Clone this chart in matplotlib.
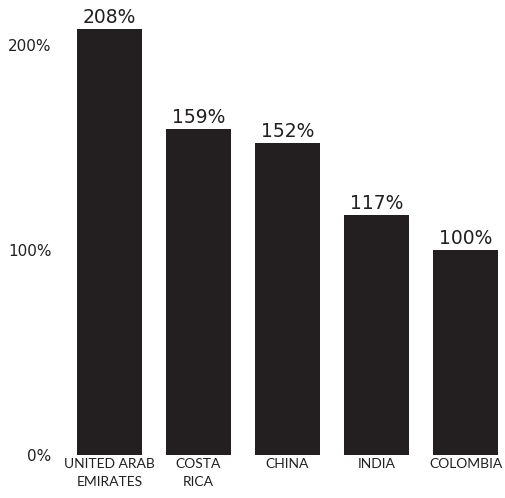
import matplotlib.pyplot as plt

countries = ["UNITED ARAB\nEMIRATES", "COSTA\nRICA", "CHINA", "INDIA", "COLOMBIA"]
values = [208, 159, 152, 117, 100]
yticks = [0, 100, 200]

fig = plt.figure(figsize=(5.05, 4.98), dpi=100)
W, H = 505, 498
# axes placement in pixels
x0, x1 = 73.9, 501.1
ybot, ytop = 455, 4
ax = fig.add_axes([x0 / W, (H - ybot) / H, (x1 - x0) / W, (ybot - ytop) / H])

pos = range(len(values))
ax.bar(pos, values, width=0.73, color="#231f20")
for p, v in zip(pos, values):
    ax.text(p, v + 1, f"{v}%", ha="center", va="bottom", fontsize=13.5, color="#231f20")

ax.set_xlim(-0.4, 4.4)
ax.set_ylim(0, 220)
ax.set_yticks(yticks)
ax.set_yticklabels([f"{t}%" for t in yticks], fontsize=11, color="#231f20")
ax.set_xticks(list(pos))
ax.set_xticklabels(countries, fontsize=10, color="#231f20", linespacing=1.6,
                   family="Lato")
ax.tick_params(length=0)
ax.tick_params(axis="x", pad=2)
ax.tick_params(axis="y", pad=16)
for s in ax.spines.values():
    s.set_visible(False)

fig.savefig("out.png", dpi=100)
